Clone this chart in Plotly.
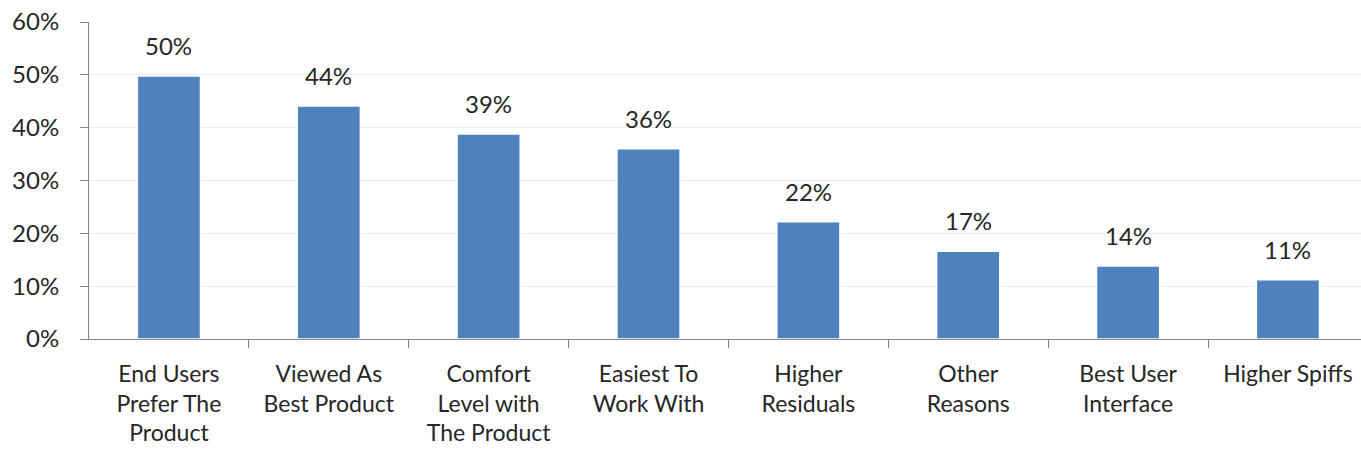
import plotly.graph_objects as go

categories = [
    "End Users<br>Prefer The<br>Product",
    "Viewed As<br>Best Product",
    "Comfort<br>Level with<br>The Product",
    "Easiest To<br>Work With",
    "Higher<br>Residuals",
    "Other<br>Reasons",
    "Best User<br>Interface",
    "Higher Spiffs",
]
values = [49.8, 44.1, 38.8, 36.0, 22.2, 16.6, 13.8, 11.2]
labels = ["50%", "44%", "39%", "36%", "22%", "17%", "14%", "11%"]
y_ticks = [0, 10, 20, 30, 40, 50, 60]
y_tick_text = ["0%", "10%", "20%", "30%", "40%", "50%", "60%"]

FONT = "Lato"
TXT = "#262626"

fig = go.Figure()
fig.add_trace(go.Bar(
    x=list(range(len(categories))),
    y=values,
    width=0.395,
    marker=dict(color="#4F81BD", line=dict(color="#FFFFFF", width=1.5)),
    hoverinfo="skip",
))

for i, (v, t) in enumerate(zip(values, labels)):
    fig.add_annotation(
        x=i, y=v, text=t, showarrow=False, yanchor="bottom", yshift=14,
        font=dict(family=FONT, size=24, color=TXT),
    )

fig.update_layout(
    width=1361, height=454,
    margin=dict(l=89, r=0, t=22, b=115),
    paper_bgcolor="white", plot_bgcolor="white",
    showlegend=False,
    bargap=0.6,
)
fig.update_xaxes(
    range=[-0.5, 7.457],
    tickmode="array",
    tickvals=list(range(len(categories))),
    ticktext=categories,
    tickfont=dict(family=FONT, size=23, color=TXT),
    ticklabelstandoff=14,
    ticklabeloverflow="allow",
    showline=True, linecolor="#868686", linewidth=1,
    showgrid=False, zeroline=False,
    ticks="",
    automargin=False,
)
# boundary tick marks
fig.update_layout(
    xaxis2=dict(
        overlaying="x", matches="x", range=[-0.5, 7.457],
        tickmode="array", tickvals=[i + 0.5 for i in range(len(categories))],
        ticks="outside", ticklen=8, tickcolor="#868686", showticklabels=False,
        showgrid=False, zeroline=False, showline=False, anchor="y",
    )
)
fig.add_trace(go.Scatter(x=[0], y=[0], xaxis="x2", mode="markers",
                         marker=dict(opacity=0), hoverinfo="skip"))
fig.update_yaxes(
    range=[0, 60],
    tickmode="array", tickvals=y_ticks, ticktext=y_tick_text,
    tickfont=dict(family=FONT, size=24, color=TXT),
    ticklabelstandoff=16,
    ticklabeloverflow="allow",
    showline=True, linecolor="#868686", linewidth=1,
    showgrid=True, gridcolor="#EDEDE4", gridwidth=1,
    ticks="outside", ticklen=8, tickcolor="#868686",
    zeroline=False,
    automargin=False,
)
fig.write_html(
    "out.html",
    config={"displayModeBar": False},
    post_script="document.body.style.margin='0';document.body.style.overflow='hidden';",
)
